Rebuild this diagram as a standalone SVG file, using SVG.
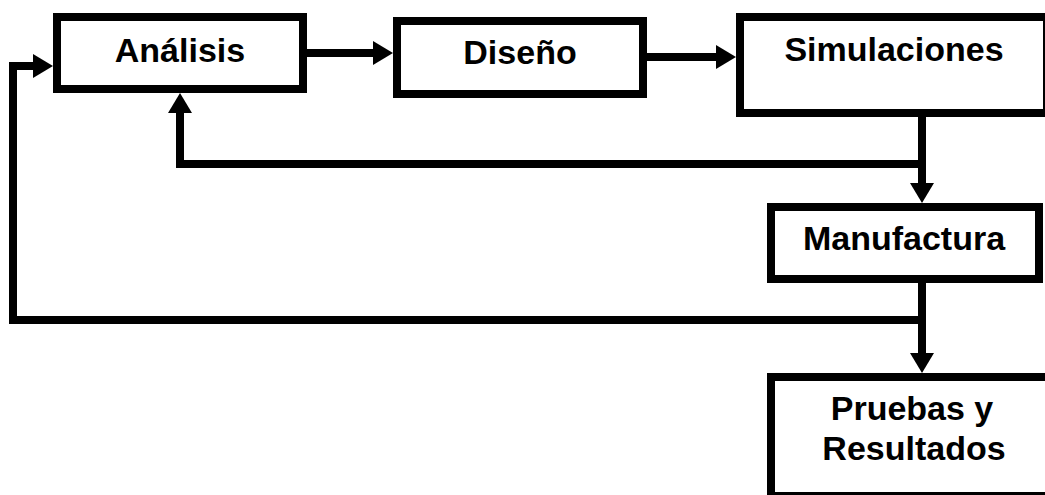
<svg xmlns="http://www.w3.org/2000/svg" width="1045" height="495" viewBox="0 0 1045 495">
  <style>
    .box { fill: #ffffff; stroke: #000000; stroke-width: 8; }
    .lbl { font-family: "Liberation Sans", Arial, sans-serif; font-weight: bold; font-size: 34px; fill: #000000; text-anchor: middle; }
    .conn { fill: none; stroke: #000000; stroke-width: 8; stroke-linejoin: miter; }
  </style>
  <defs>
    <marker id="arrow" markerUnits="userSpaceOnUse" markerWidth="20" markerHeight="24" refX="4" refY="12" orient="auto">
      <path d="M0,0 L20,12 L0,24 Z" fill="#000000"/>
    </marker>
  </defs>
  <rect x="0" y="0" width="1045" height="495" fill="#ffffff"/>
  <g id="connectors">
    <path class="conn" d="M307,53 H377" marker-end="url(#arrow)"/>
    <path class="conn" d="M647,57 H720" marker-end="url(#arrow)"/>
    <path class="conn" d="M922,117 V187" marker-end="url(#arrow)"/>
    <path class="conn" d="M926,164 H180 V109" marker-end="url(#arrow)"/>
    <path class="conn" d="M922,283 V357" marker-end="url(#arrow)"/>
    <path class="conn" d="M926,320 H13 V66 H37" marker-end="url(#arrow)"/>
  </g>
  <g id="node-analisis">
    <rect class="box" x="57" y="17" width="246" height="72"/>
    <text class="lbl" x="180" y="62">Análisis</text>
  </g>
  <g id="node-diseno">
    <rect class="box" x="397" y="21" width="246" height="73"/>
    <text class="lbl" x="520" y="64">Diseño</text>
  </g>
  <g id="node-simulaciones">
    <rect class="box" x="740" y="17" width="307" height="96"/>
    <text class="lbl" x="894" y="61">Simulaciones</text>
  </g>
  <g id="node-manufactura">
    <rect class="box" x="771" y="207" width="268" height="72"/>
    <text class="lbl" x="904" y="250">Manufactura</text>
  </g>
  <g id="node-pruebas">
    <rect class="box" x="771" y="377" width="300" height="119"/>
    <text class="lbl" x="912" y="420">Pruebas y</text>
    <text class="lbl" x="914" y="460">Resultados</text>
  </g>
</svg>
